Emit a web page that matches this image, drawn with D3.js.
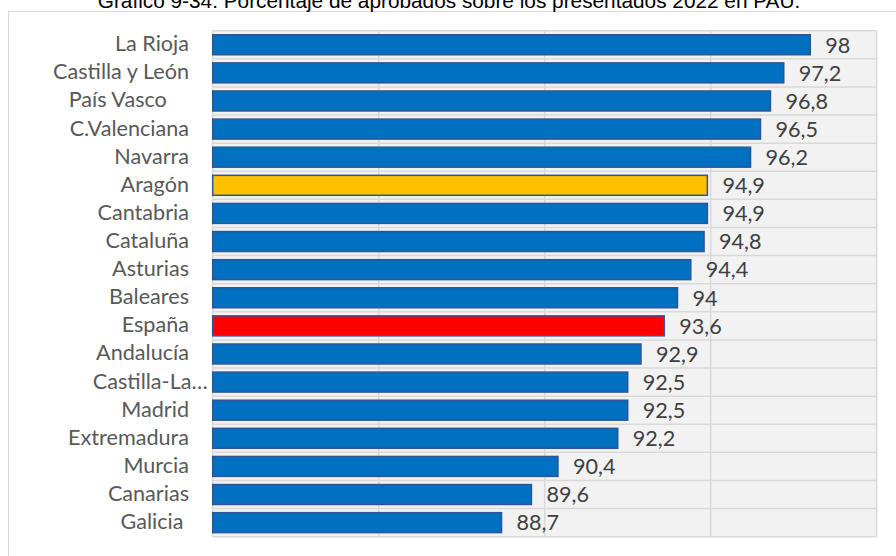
<!DOCTYPE html>
<html>
<head>
<meta charset="utf-8">
<script src="https://cdn.jsdelivr.net/npm/d3@7"></script>
<style>
  html, body { margin: 0; padding: 0; background: #fff; overflow: hidden; }
  svg { display: block; }
</style>
</head>
<body>
<svg id="chart" width="896" height="556"></svg>
<script>
const title = "Gráfico 9-34. Porcentaje de aprobados sobre los presentados 2022 en PAU.";
const categories = ["La Rioja", "Castilla y León", "País Vasco    ", "C.Valenciana", "Navarra", "Aragón",
  "Cantabria", "Cataluña", "Asturias", "Baleares", "España", "Andalucía", "Castilla-La…",
  "Madrid", "Extremadura", "Murcia", "Canarias", "Galicia "];
const values = [98, 97.2, 96.8, 96.5, 96.2, 94.9, 94.9, 94.8, 94.4, 94, 93.6, 92.9, 92.5, 92.5, 92.2, 90.4, 89.6, 88.7];
const xTicks = [80, 85, 90, 95, 100];

const W = 896, H = 556;
const plot = { left: 212.7, right: 876.7, top: 30.7, bottom: 536.7 };
const svg = d3.select("#chart");

// outer chart area
svg.append("rect").attr("x", 8.5).attr("y", 11.5).attr("width", 900).attr("height", 560)
  .attr("fill", "#fff").attr("stroke", "#d9d9d9").attr("stroke-width", 1);

// title
const t = svg.append("text").attr("x", 449).attr("y", 7.5).attr("text-anchor", "middle")
  .attr("font-family", "'Liberation Sans', Arial, sans-serif").attr("font-size", 18)
  .attr("fill", "#000").text(title);
const tw = t.node().getComputedTextLength();
t.attr("font-size", 18 * 703 / tw);

const x = d3.scaleLinear().domain([80, 100]).range([plot.left, plot.right]);
const y = d3.scaleBand().domain(categories).range([plot.top, plot.bottom]).paddingInner(0.29).paddingOuter(0.145);
const band = d3.scaleBand().domain(categories).range([plot.top, plot.bottom]);

// plot background
svg.append("rect").attr("x", plot.left).attr("y", plot.top)
  .attr("width", plot.right - plot.left).attr("height", plot.bottom - plot.top).attr("fill", "#f2f2f2");

// vertical gridlines
svg.append("g").selectAll("line").data(xTicks).join("line")
  .attr("x1", d => x(d)).attr("x2", d => x(d)).attr("y1", plot.top).attr("y2", plot.bottom)
  .attr("stroke", "#d9d9d9").attr("stroke-width", 1.5);
// horizontal gridlines at category boundaries
const hLines = categories.map(c => band(c)).concat([plot.bottom]);
svg.append("g").selectAll("line").data(hLines).join("line")
  .attr("x1", plot.left).attr("x2", plot.right).attr("y1", d => d).attr("y2", d => d)
  .attr("stroke", "#d9d9d9").attr("stroke-width", 1.5);

const fillFor = c => c === "España" ? "#ff0000" : (c === "Aragón" ? "#ffc000" : "#0070c0");

svg.append("g").selectAll("rect").data(categories).join("rect")
  .attr("x", x(80))
  .attr("y", c => y(c))
  .attr("width", (c, i) => x(values[i]) - x(80))
  .attr("height", y.bandwidth())
  .attr("fill", fillFor)
  .attr("stroke", "#2f5597").attr("stroke-width", 1.5);

const fontLabel = "Lato, 'Open Sans', sans-serif";
// measure to size font like the original
const probe = svg.append("text").attr("font-family", fontLabel).attr("font-size", 20).text("Castilla y León");
const pw = probe.node().getComputedTextLength();
probe.remove();
const fs = 20 * 136 / pw;

svg.append("g").selectAll("text").data(categories).join("text")
  .attr("x", c => c.endsWith("…") ? plot.left - 5 : 189)
  .attr("y", c => band(c) + band.bandwidth() / 2 + fs * 0.3)
  .attr("text-anchor", "end")
  .attr("xml:space", "preserve")
  .style("white-space", "pre")
  .attr("font-family", fontLabel).attr("font-size", fs).attr("fill", "#595959")
  .text(c => c);

const fmt = v => String(v).replace(".", ",");
svg.append("g").selectAll("text").data(categories).join("text")
  .attr("x", (c, i) => x(values[i]) + 15)
  .attr("y", c => band(c) + band.bandwidth() / 2 + fs * 0.36)
  .attr("font-family", fontLabel).attr("font-size", fs).attr("fill", "#404040")
  .text((c, i) => fmt(values[i]));
</script>
</body>
</html>
